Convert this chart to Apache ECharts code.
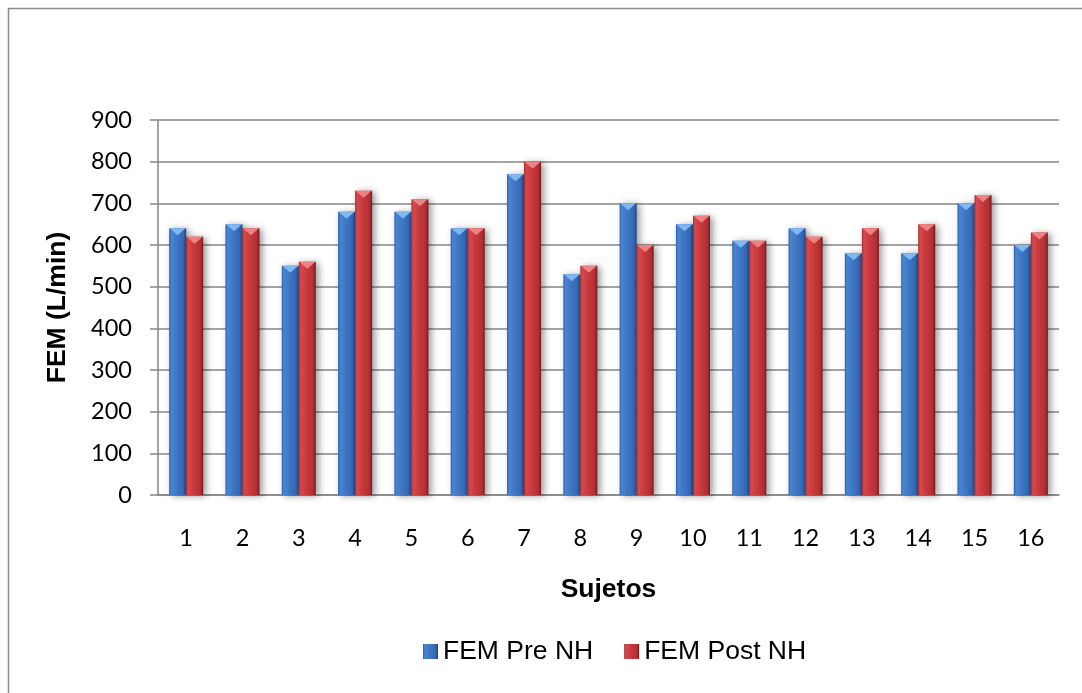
<!DOCTYPE html>
<html>
<head>
<meta charset="utf-8">
<script src="https://cdn.jsdelivr.net/npm/echarts@6/dist/echarts.min.js"></script>
<style>
  html, body { margin: 0; padding: 0; background: #ffffff; }
  #chart { width: 1082px; height: 693px; }
</style>
</head>
<body>
<div id="chart"></div>
<script>
// Sujetos 1–16, peak expiratory flow before and after the intervention
const subjects = ['1','2','3','4','5','6','7','8','9','10','11','12','13','14','15','16'];
const femPre  = [640, 650, 550, 680, 680, 640, 770, 530, 700, 650, 610, 640, 580, 580, 700, 600];
const femPost = [620, 640, 560, 730, 710, 640, 800, 550, 600, 670, 610, 620, 640, 650, 720, 630];
const seriesNames = ['FEM Pre NH', 'FEM Post NH'];
const yTicks = { min: 0, max: 900, interval: 100 };

const chart = echarts.init(document.getElementById('chart'), null, { renderer: 'canvas' });

function bodyGradient(stops) {
  return new echarts.graphic.LinearGradient(0, 0, 1, 0, stops.map((c) => ({ offset: c[0], color: c[1] })));
}

const blueBody = bodyGradient([[0, '#2c5ca6'], [0.12, '#4a85d2'], [0.45, '#3e76c4'], [0.85, '#3466b2'], [1, '#1f3f7a']]);
const redBody  = bodyGradient([[0, '#a02a2e'], [0.12, '#d8494d'], [0.45, '#c8393d'], [0.85, '#b22e32'], [1, '#6c1a1d']]);

const barShadow = { shadowBlur: 7, shadowColor: 'rgba(0,0,0,0.4)', shadowOffsetX: 3, shadowOffsetY: 1 };

// bevelled top of each column: a light triangle pointing down
const capSymbol = 'path://M0,0 L10,0 L5,4 Z';

const option = {
  animation: false,
  backgroundColor: '#ffffff',
  graphic: [{
    type: 'rect',
    shape: { x: 8.5, y: 8.5, width: 1200, height: 1000 },
    style: { fill: 'none', stroke: '#8c8c8c', lineWidth: 1.5 },
    silent: true,
    z: 100
  }],
  grid: { left: 158, right: 23, top: 120, bottom: 198, containLabel: false },
  legend: {
    data: seriesNames,
    left: 418,
    top: 633,
    icon: 'rect',
    itemWidth: 15,
    itemHeight: 15,
    itemGap: 31,
    textStyle: { fontFamily: 'Liberation Sans', fontSize: 26.5, color: '#000000' }
  },
  xAxis: {
    type: 'category',
    data: subjects,
    name: 'Sujetos',
    nameLocation: 'middle',
    nameGap: 95,
    nameTextStyle: { fontFamily: 'Liberation Sans', fontWeight: 'bold', fontSize: 26.5, color: '#000000', verticalAlign: 'middle' },
    axisLine: { lineStyle: { color: '#868686', width: 1.5 } },
    axisTick: { show: false },
    axisLabel: { margin: 43, verticalAlign: 'middle', fontFamily: 'Lato', fontSize: 23.5, color: '#000000' }
  },
  yAxis: {
    type: 'value',
    min: yTicks.min,
    max: yTicks.max,
    interval: yTicks.interval,
    name: 'FEM (L/min)',
    nameLocation: 'middle',
    nameGap: 100,
    nameTextStyle: { fontFamily: 'Liberation Sans', fontWeight: 'bold', fontSize: 26.5, color: '#000000', verticalAlign: 'middle' },
    axisLine: { show: true, lineStyle: { color: '#868686', width: 1.5 } },
    axisTick: { show: true, length: 8, lineStyle: { color: '#868686', width: 1.5 } },
    axisLabel: { margin: 26, fontFamily: 'Lato', fontSize: 23.5, color: '#000000' },
    splitLine: { show: true, lineStyle: { color: '#868686', width: 1.5 } }
  },
  series: [
    {
      name: seriesNames[0], type: 'bar', data: femPre,
      barWidth: 17, barGap: '0%',
      itemStyle: Object.assign({ color: blueBody }, barShadow), z: 2
    },
    {
      name: seriesNames[1], type: 'bar', data: femPost,
      barWidth: 17, barGap: '0%',
      itemStyle: Object.assign({ color: redBody }, barShadow), z: 2
    },
    {
      name: 'capPre', type: 'pictorialBar', data: femPre,
      symbol: capSymbol, symbolSize: [16, 7], symbolPosition: 'end', symbolOffset: [0, 0],
      barGap: '0%', barCategoryGap: '39.6%',
      itemStyle: { color: '#7fb7f2' }, z: 5, silent: true
    },
    {
      name: 'capPost', type: 'pictorialBar', data: femPost,
      symbol: capSymbol, symbolSize: [16, 7], symbolPosition: 'end', symbolOffset: [0, 0],
      barGap: '0%', barCategoryGap: '39.6%',
      itemStyle: { color: '#ee8283' }, z: 5, silent: true
    }
  ]
};

chart.setOption(option);
</script>
</body>
</html>
